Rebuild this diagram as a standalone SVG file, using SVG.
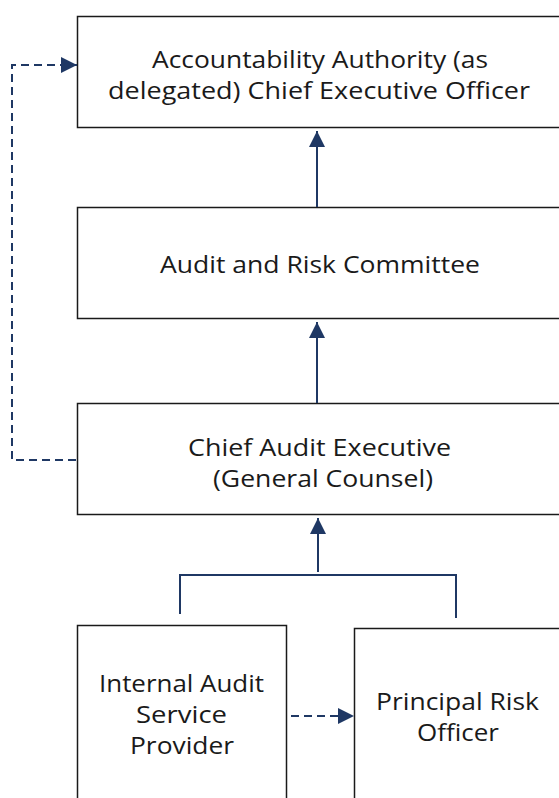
<svg xmlns="http://www.w3.org/2000/svg" width="559" height="798" viewBox="0 0 559 798">
<style>
.box{fill:#fff;stroke:#1a1a1a;stroke-width:1.5}
.t{font-family:"Open Sans","Lato",sans-serif;font-size:24px;fill:#1a1a1a;text-anchor:middle}
.c{fill:none;stroke:#1f3864;stroke-width:2}
.d{fill:none;stroke:#1f3864;stroke-width:2;stroke-dasharray:8,5}
</style>
<defs>
<marker id="ah" markerWidth="16" markerHeight="16" viewBox="0 0 16 16" refX="16" refY="8" orient="auto" markerUnits="userSpaceOnUse">
<path d="M0,0 L16,8 L0,16 Z" fill="#1f3864"/>
</marker>
</defs>
<rect width="559" height="798" fill="#fff"/>
<g id="n1">
<rect class="box" x="77.5" y="16.5" width="490" height="111"/>
<text class="t" x="320" y="68" textLength="336" lengthAdjust="spacingAndGlyphs">Accountability Authority (as</text>
<text class="t" x="319" y="99" textLength="422" lengthAdjust="spacingAndGlyphs">delegated) Chief Executive Officer</text>
</g>
<g id="n2">
<rect class="box" x="77.5" y="207.5" width="490" height="111"/>
<text class="t" x="320" y="273" textLength="320" lengthAdjust="spacingAndGlyphs">Audit and Risk Committee</text>
</g>
<g id="n3">
<rect class="box" x="77.5" y="403.5" width="490" height="111"/>
<text class="t" x="319.5" y="456" textLength="263" lengthAdjust="spacingAndGlyphs">Chief Audit Executive</text>
<text class="t" x="323" y="487" textLength="220" lengthAdjust="spacingAndGlyphs">(General Counsel)</text>
</g>
<g id="n4">
<rect class="box" x="77.5" y="625.5" width="209" height="190"/>
<text class="t" x="181.5" y="692" textLength="165" lengthAdjust="spacingAndGlyphs">Internal Audit</text>
<text class="t" x="181.5" y="723" textLength="91" lengthAdjust="spacingAndGlyphs">Service</text>
<text class="t" x="182" y="754" textLength="104" lengthAdjust="spacingAndGlyphs">Provider</text>
</g>
<g id="n5">
<rect class="box" x="354.5" y="628.5" width="220" height="190"/>
<text class="t" x="457.5" y="710" textLength="163" lengthAdjust="spacingAndGlyphs">Principal Risk</text>
<text class="t" x="458" y="741" textLength="82" lengthAdjust="spacingAndGlyphs">Officer</text>
</g>
<g id="connectors">
<path class="c" d="M317,207 V131" marker-end="url(#ah)"/>
<path class="c" d="M317,403 V322" marker-end="url(#ah)"/>
<path class="c" d="M318,572 V518" marker-end="url(#ah)"/>
<path class="c" d="M180,614 V575 H456 V618"/>
<path class="d" d="M76,460 H12 V65 H77" marker-end="url(#ah)"/>
<path class="d" d="M291,716 H354" marker-end="url(#ah)"/>
</g>
</svg>
